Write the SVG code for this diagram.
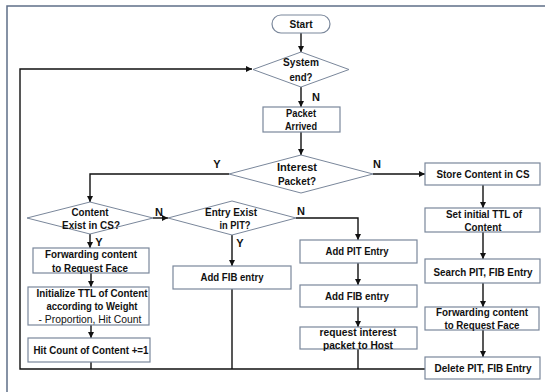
<svg xmlns="http://www.w3.org/2000/svg" width="545" height="392" viewBox="0 0 545 392">
<defs>
<marker id="ah" viewBox="0 0 6 6" refX="6" refY="3" markerWidth="6" markerHeight="6" markerUnits="userSpaceOnUse" orient="auto">
<path d="M0,0 L6,3 L0,6 z" fill="#111"/>
</marker>
<style>
.box{fill:#fff;stroke:#7a879b;stroke-width:1.2}
.dia{fill:#fff;stroke:#7a879b;stroke-width:1}
.term{fill:#fff;stroke:#7a879b;stroke-width:1.2}
.ln{fill:none;stroke:#111;stroke-width:1.4}
.ar{fill:none;stroke:#111;stroke-width:1.4;marker-end:url(#ah)}
text{font-family:"Liberation Sans",Arial,sans-serif;font-size:11px;font-weight:bold;fill:#111;text-anchor:middle;dominant-baseline:central}
.nb{font-weight:normal}
.frame{fill:none;stroke:#5f6f88;stroke-width:1.5}
</style>
</defs>
<rect width="545" height="392" fill="#fff"/>
<path class="frame" d="M7,392 L7,6 L545,6"/>

<g id="connectors">
<line class="ar" x1="301" y1="33" x2="301" y2="52"/>
<line class="ar" x1="301" y1="87" x2="301" y2="107"/>
<line class="ar" x1="301" y1="132" x2="301" y2="155"/>
<polyline class="ar" points="229,174 90,174 90,202"/>
<line class="ar" x1="373" y1="174" x2="425" y2="174"/>
<line class="ar" x1="153" y1="218" x2="168" y2="218"/>
<line class="ar" x1="90" y1="234" x2="90" y2="248"/>
<line class="ar" x1="232" y1="235" x2="232" y2="266"/>
<polyline class="ar" points="296,218 358,218 358,240"/>
<line class="ar" x1="358" y1="263" x2="358" y2="285"/>
<line class="ar" x1="358" y1="307" x2="358" y2="327"/>
<line class="ln" x1="358" y1="349" x2="358" y2="369"/>
<line class="ar" x1="91" y1="273" x2="91" y2="287"/>
<line class="ar" x1="91" y1="325" x2="91" y2="338"/>
<line class="ln" x1="91" y1="362" x2="91" y2="369"/>
<line class="ln" x1="232" y1="289" x2="232" y2="369"/>
<polyline class="ar" points="425,369 20,369 20,69 252,69"/>
<line class="ar" x1="483" y1="185" x2="483" y2="208"/>
<line class="ar" x1="483" y1="232" x2="483" y2="259"/>
<line class="ar" x1="483" y1="283" x2="483" y2="307"/>
<line class="ar" x1="483" y1="330" x2="483" y2="357"/>
<text x="316" y="97">N</text>
<text x="217" y="164">Y</text>
<text x="377" y="164">N</text>
<text x="159" y="212">N</text>
<text x="99" y="242">Y</text>
<text x="240" y="243">Y</text>
<text x="301" y="211">N</text>
</g>

<g id="start"><rect class="term" x="272" y="15" width="58" height="18" rx="9"/><text x="301" y="24" textLength="23" lengthAdjust="spacingAndGlyphs">Start</text></g>
<g id="system-end"><polygon class="dia" points="301,52 349,69.5 301,87 253,69.5"/><text x="301" y="62" textLength="36" lengthAdjust="spacingAndGlyphs">System</text><text x="301" y="77" textLength="23" lengthAdjust="spacingAndGlyphs">end?</text></g>
<g id="packet-arrived"><rect class="box" x="263" y="107" width="77" height="25"/><text x="301" y="113" textLength="30" lengthAdjust="spacingAndGlyphs">Packet</text><text x="301" y="126" textLength="32" lengthAdjust="spacingAndGlyphs">Arrived</text></g>
<g id="interest-packet"><polygon class="dia" points="301,155 373,174 301,193 229,174"/><text x="297" y="167" textLength="40" lengthAdjust="spacingAndGlyphs">Interest</text><text x="297" y="181" textLength="38" lengthAdjust="spacingAndGlyphs">Packet?</text></g>
<g id="content-exist"><polygon class="dia" points="90,202 153,218 90,234 27,218"/><text x="90" y="212" textLength="37" lengthAdjust="spacingAndGlyphs">Content</text><text x="91" y="225" textLength="58" lengthAdjust="spacingAndGlyphs">Exist in CS?</text></g>
<g id="entry-exist"><polygon class="dia" points="232,201 296,218 232,235 168,218"/><text x="231" y="212" textLength="52" lengthAdjust="spacingAndGlyphs">Entry Exist</text><text x="235" y="225" textLength="31" lengthAdjust="spacingAndGlyphs">in PIT?</text></g>
<g id="forwarding-left"><rect class="box" x="33" y="248" width="116" height="25"/><text x="91" y="254" textLength="92" lengthAdjust="spacingAndGlyphs">Forwarding content</text><text x="90" y="268" textLength="76" lengthAdjust="spacingAndGlyphs">to Request Face</text></g>
<g id="initialize-ttl"><rect class="box" x="28" y="287" width="121" height="38"/><text x="92" y="293" textLength="111" lengthAdjust="spacingAndGlyphs">Initialize TTL of Content</text><text x="92" y="306" textLength="91" lengthAdjust="spacingAndGlyphs">according to Weight</text><text class="nb" x="90" y="319" textLength="103" lengthAdjust="spacingAndGlyphs">- Proportion, Hit Count</text></g>
<g id="hit-count"><rect class="box" x="28" y="338" width="122" height="24"/><text x="91" y="350" textLength="115" lengthAdjust="spacingAndGlyphs">Hit Count of Content +=1</text></g>
<g id="add-fib-left"><rect class="box" x="173" y="266" width="118" height="23"/><text x="232" y="277" textLength="63" lengthAdjust="spacingAndGlyphs">Add FIB entry</text></g>
<g id="add-pit"><rect class="box" x="300" y="240" width="117" height="23"/><text x="357" y="251" textLength="63" lengthAdjust="spacingAndGlyphs">Add PIT Entry</text></g>
<g id="add-fib-mid"><rect class="box" x="300" y="285" width="117" height="22"/><text x="357" y="296" textLength="64" lengthAdjust="spacingAndGlyphs">Add FIB entry</text></g>
<g id="request-interest"><rect class="box" x="300" y="327" width="117" height="22"/><text x="358" y="332" textLength="77" lengthAdjust="spacingAndGlyphs">request interest</text><text x="358" y="345" textLength="70" lengthAdjust="spacingAndGlyphs">packet to Host</text></g>
<g id="store-content"><rect class="box" x="425" y="163" width="115" height="22"/><text x="483" y="174" textLength="93" lengthAdjust="spacingAndGlyphs">Store Content in CS</text></g>
<g id="set-ttl"><rect class="box" x="425" y="208" width="115" height="24"/><text x="484" y="214" textLength="76" lengthAdjust="spacingAndGlyphs">Set initial TTL of</text><text x="483" y="227" textLength="37" lengthAdjust="spacingAndGlyphs">Content</text></g>
<g id="search-pit"><rect class="box" x="425" y="259" width="115" height="24"/><text x="483" y="272" textLength="99" lengthAdjust="spacingAndGlyphs">Search PIT, FIB Entry</text></g>
<g id="forwarding-right"><rect class="box" x="425" y="307" width="114" height="23"/><text x="482" y="312" textLength="92" lengthAdjust="spacingAndGlyphs">Forwarding content</text><text x="482" y="325" textLength="75" lengthAdjust="spacingAndGlyphs">to Request Face</text></g>
<g id="delete-pit"><rect class="box" x="425" y="357" width="115" height="22"/><text x="483" y="368" textLength="97" lengthAdjust="spacingAndGlyphs">Delete PIT, FIB Entry</text></g>
</svg>
